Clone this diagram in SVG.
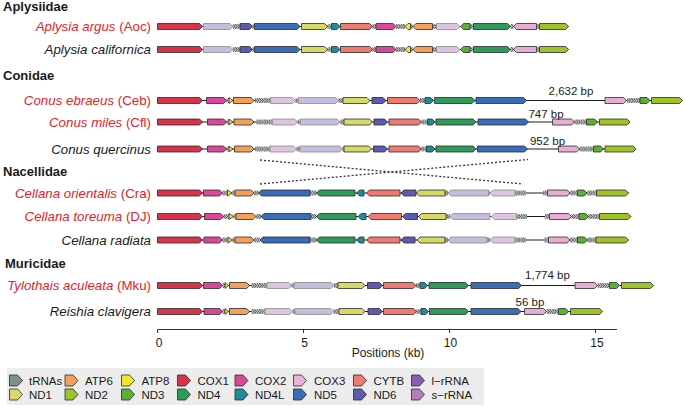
<svg xmlns="http://www.w3.org/2000/svg" xmlns:xlink="http://www.w3.org/1999/xlink" width="685" height="408" viewBox="0 0 685 408">
<style>
text{font-family:"Liberation Sans",Arial,sans-serif;fill:#1a1a1a}
.fam{font-size:13px;font-weight:bold}
.sp{font-size:13.3px}
.red{fill:#e8212b}
.it{font-style:italic}
.bp{font-size:11.5px;text-anchor:middle}
.lg{font-size:11.5px}
.ax{font-size:12px;text-anchor:middle}
path{stroke:#2b2b2b;stroke-width:.8}
.bb{stroke:#1a1a1a;stroke-width:1;fill:none}
.c1{fill:#d7334a}.c2{fill:#d9489a}.c3{fill:#e7add5}.cb{fill:#f07a70}
.a6{fill:#f4a05a}.a8{fill:#f2e52a}
.n1{fill:#d6d86a}.n2{fill:#9dc22a}.n3{fill:#5cb034}.n4{fill:#2f9a5c}.n4l{fill:#218b9b}.n5{fill:#3a6db8}.n6{fill:#5c5bb0}
.lr{fill:#c8bcdd;stroke:#8c8c8c}.sr{fill:#ddc3df;stroke:#8c8c8c}
.t{fill:url(#tp)}
.dash{stroke:#333;stroke-width:1.3;stroke-dasharray:2 2;fill:none}
</style>
<defs>
<pattern id="tp" x="0" y="-2.5" width="2.4" height="5" patternUnits="userSpaceOnUse">
<rect width="2.4" height="5" fill="#c6c6c6"/>
<path d="M0 0.3L2 2.5L0 4.7" fill="none" stroke="#6e6e6e" stroke-width="0.8"/>
</pattern>
<path id="ic" d="M0 0H8L13 5.5L8 11H0Z" stroke="#333" stroke-width="0.8"/>
<g id="aplTrack">
<line class="bb" x1="157.5" y1="0" x2="568.5" y2="0"/>
<rect class="t" x="233" y="-2.5" width="7" height="5"/>
<rect class="t" x="252.5" y="-2.5" width="2" height="5"/>
<rect class="t" x="327.5" y="-2.5" width="4" height="5"/>
<rect class="t" x="372.5" y="-2.5" width="3.5" height="5"/>
<rect class="t" x="396" y="-2.5" width="9" height="5"/>
<rect class="t" x="410.5" y="-2.5" width="2.5" height="5"/>
<rect class="t" x="432.5" y="-2.5" width="4" height="5"/>
<rect class="t" x="470" y="-2.5" width="3.5" height="5"/>
<rect class="t" x="510.5" y="-2.5" width="3" height="5"/>
<rect class="t" x="536.5" y="-2.5" width="3" height="5"/>
<path class="c1" d="M157.5 -3H199.5L202.5 0L199.5 3H157.5Z"/>
<path class="lr" d="M203.5 -3H230L233 0L230 3H203.5Z"/>
<path class="n6" d="M240 -3H249.5L252.5 0L249.5 3H240Z"/>
<path class="n5" d="M254.5 -3H297L300 0L297 3H254.5Z"/>
<path class="n1" d="M301.5 -3H324.5L327.5 0L324.5 3H301.5Z"/>
<path class="n4l" d="M331.5 -3H337L340 0L337 3H331.5Z"/>
<path class="cb" d="M340.5 -3H369.5L372.5 0L369.5 3H340.5Z"/>
<path class="c2" d="M376 -3H393L396 0L393 3H376Z"/>
<path class="a8" d="M405 0L408 -3H410.5V3H408Z"/>
<path class="a6" d="M413 0L416 -3H432.5V3H416Z"/>
<path class="sr" d="M436.5 -3H457L460 0L457 3H436.5Z"/>
<path class="n3" d="M460.5 0L463.5 -3H470V3H463.5Z"/>
<path class="n4" d="M473.5 -3H507.5L510.5 0L507.5 3H473.5Z"/>
<path class="c3" d="M513.5 0L516.5 -3H536.5V3H516.5Z"/>
<path class="n2" d="M539.5 -3H565.5L568.5 0L565.5 3H539.5Z"/>
</g>
</defs>
<rect width="685" height="408" fill="#ffffff"/>

<g id="families">
<text class="fam" x="3" y="11">Aplysiidae</text>
<text class="fam" x="3" y="79.5">Conidae</text>
<text class="fam" x="3" y="176">Nacellidae</text>
<text class="fam" x="5" y="268">Muricidae</text>
</g>

<g id="connectors">
<line class="dash" x1="260" y1="160" x2="523" y2="184"/>
<line class="dash" x1="260" y1="184" x2="528" y2="159.5"/>
</g>

<g id="aplysia-argus">
<text class="sp red" x="151" y="31" text-anchor="end"><tspan class="it">Aplysia argus</tspan> (Aoc)</text>
<use href="#aplTrack" xlink:href="#aplTrack" transform="translate(0,26.5)"/>
</g>

<g id="aplysia-californica">
<text class="sp it" x="151" y="54" text-anchor="end">Aplysia californica</text>
<use href="#aplTrack" xlink:href="#aplTrack" transform="translate(0,49.5)"/>
</g>

<g id="conus-ebraeus">
<text class="sp red" x="151" y="105" text-anchor="end"><tspan class="it">Conus ebraeus</tspan> (Ceb)</text>
<g transform="translate(0,100.5)">
<line class="bb" x1="157.5" y1="0" x2="682.5" y2="0"/>
<rect class="t" x="226.5" y="-2.5" width="2.5" height="5"/>
<rect class="t" x="255" y="-2.5" width="15.5" height="5"/>
<rect class="t" x="295.5" y="-2.5" width="3" height="5"/>
<rect class="t" x="338.5" y="-2.5" width="4.5" height="5"/>
<rect class="t" x="420" y="-2.5" width="5" height="5"/>
<rect class="t" x="627" y="-2.5" width="13" height="5"/>
<path class="c1" d="M157.5 -3H199.5L202.5 0L199.5 3H157.5Z"/>
<path class="c2" d="M206.5 -3H223.5L226.5 0L223.5 3H206.5Z"/>
<path class="a8" d="M229 -3L233 0L229 3Z"/>
<path class="a6" d="M233.5 -3H251L254 0L251 3H233.5Z"/>
<path class="sr" d="M270.5 -3H292.5L295.5 0L292.5 3H270.5Z"/>
<path class="lr" d="M298.5 -3H335.5L338.5 0L335.5 3H298.5Z"/>
<path class="n1" d="M343 -3H367L370 0L367 3H343Z"/>
<path class="n6" d="M372 -3H383L386 0L383 3H372Z"/>
<path class="cb" d="M387.5 -3H417L420 0L417 3H387.5Z"/>
<path class="n4l" d="M425 -3H430.5L433.5 0L430.5 3H425Z"/>
<path class="n4" d="M434.5 -3H472L475 0L472 3H434.5Z"/>
<path class="n5" d="M476 -3H523.5L526.5 0L523.5 3H476Z"/>
<path class="c3" d="M605 -3H623.5L626.5 0L623.5 3H605Z"/>
<path class="n3" d="M640 -3H647L650 0L647 3H640Z"/>
<path class="n2" d="M651.5 -3H679.5L682.5 0L679.5 3H651.5Z"/>
</g>
<text class="bp" x="571" y="95">2,632 bp</text>
</g>

<g id="conus-miles">
<text class="sp red" x="151" y="126.5" text-anchor="end"><tspan class="it">Conus miles</tspan> (Cfl)</text>
<g transform="translate(0,122)">
<line class="bb" x1="157.5" y1="0" x2="630" y2="0"/>
<rect class="t" x="226.5" y="-2.5" width="2.5" height="5"/>
<rect class="t" x="256" y="-2.5" width="16" height="5"/>
<rect class="t" x="297.5" y="-2.5" width="3" height="5"/>
<rect class="t" x="340" y="-2.5" width="4" height="5"/>
<rect class="t" x="421.5" y="-2.5" width="5.5" height="5"/>
<rect class="t" x="574.5" y="-2.5" width="12" height="5"/>
<path class="c1" d="M157.5 -3H199.5L202.5 0L199.5 3H157.5Z"/>
<path class="c2" d="M207.5 -3H223.5L226.5 0L223.5 3H207.5Z"/>
<path class="a8" d="M229 -3L233 0L229 3Z"/>
<path class="a6" d="M234 -3H251L254 0L251 3H234Z"/>
<path class="sr" d="M272.5 -3H294.5L297.5 0L294.5 3H272.5Z"/>
<path class="lr" d="M300.5 -3H337L340 0L337 3H300.5Z"/>
<path class="n1" d="M344 -3H369.5L372.5 0L369.5 3H344Z"/>
<path class="n6" d="M374 -3H384.5L387.5 0L384.5 3H374Z"/>
<path class="cb" d="M389 -3H418.5L421.5 0L418.5 3H389Z"/>
<path class="n4l" d="M427.5 -3H432L435 0L432 3H427.5Z"/>
<path class="n4" d="M436 -3H473L476 0L473 3H436Z"/>
<path class="n5" d="M478 -3H525.5L528.5 0L525.5 3H478Z"/>
<path class="c3" d="M552.5 -3H571.5L574.5 0L571.5 3H552.5Z"/>
<path class="n3" d="M586.5 -3H594.5L597.5 0L594.5 3H586.5Z"/>
<path class="n2" d="M599.5 -3H627L630 0L627 3H599.5Z"/>
</g>
<text class="bp" x="546" y="117.5">747 bp</text>
</g>

<g id="conus-quercinus">
<text class="sp it" x="151" y="153.5" text-anchor="end">Conus quercinus</text>
<g transform="translate(0,149)">
<line class="bb" x1="157.5" y1="0" x2="636" y2="0"/>
<rect class="t" x="226.5" y="-2.5" width="2.5" height="5"/>
<rect class="t" x="255" y="-2.5" width="15" height="5"/>
<rect class="t" x="296.5" y="-2.5" width="3.5" height="5"/>
<rect class="t" x="342.5" y="-2.5" width="1.5" height="5"/>
<rect class="t" x="421.5" y="-2.5" width="5" height="5"/>
<rect class="t" x="579.5" y="-2.5" width="13.5" height="5"/>
<path class="c1" d="M157.5 -3H199.5L202.5 0L199.5 3H157.5Z"/>
<path class="c2" d="M207.5 -3H223.5L226.5 0L223.5 3H207.5Z"/>
<path class="a8" d="M229 -3L233 0L229 3Z"/>
<path class="a6" d="M234.5 -3H251L254 0L251 3H234.5Z"/>
<path class="sr" d="M270 -3H293.5L296.5 0L293.5 3H270Z"/>
<path class="lr" d="M300 -3H339.5L342.5 0L339.5 3H300Z"/>
<path class="n1" d="M344 -3H368.5L371.5 0L368.5 3H344Z"/>
<path class="n6" d="M373.5 -3H384.5L387.5 0L384.5 3H373.5Z"/>
<path class="cb" d="M389 -3H418.5L421.5 0L418.5 3H389Z"/>
<path class="n4l" d="M426.5 -3H432L435 0L432 3H426.5Z"/>
<path class="n4" d="M436 -3H473L476 0L473 3H436Z"/>
<path class="n5" d="M477.5 -3H524.5L527.5 0L524.5 3H477.5Z"/>
<path class="c3" d="M558.5 -3H576.5L579.5 0L576.5 3H558.5Z"/>
<path class="n3" d="M593.5 -3H600.5L603.5 0L600.5 3H593.5Z"/>
<path class="n2" d="M605 -3H633L636 0L633 3H605Z"/>
</g>
<text class="bp" x="547.5" y="145">952 bp</text>
</g>

<g id="cellana-orientalis">
<text class="sp red" x="151" y="197.5" text-anchor="end"><tspan class="it">Cellana orientalis</tspan> (Cra)</text>
<g transform="translate(0,193)">
<line class="bb" x1="157.5" y1="0" x2="628.5" y2="0"/>
<rect class="t" x="222.5" y="-2.5" width="5" height="5"/>
<rect class="t" x="232" y="-2.5" width="3" height="5"/>
<rect class="t" x="254" y="-2.5" width="4.5" height="5"/>
<rect class="t" x="310" y="-2.5" width="6.5" height="5"/>
<rect class="t" x="445" y="-2.5" width="3" height="5"/>
<rect class="t" x="488.5" y="-2.5" width="1.5" height="5"/>
<rect class="t" x="515" y="-2.5" width="11" height="5"/>
<rect class="t" x="543" y="-2.5" width="4.5" height="5"/>
<rect class="t" x="570" y="-2.5" width="7.5" height="5"/>
<rect class="t" x="587" y="-2.5" width="9.5" height="5"/>
<path class="c1" d="M157.5 -3H199.5L202.5 0L199.5 3H157.5Z"/>
<path class="c2" d="M203.5 -3H219.5L222.5 0L219.5 3H203.5Z"/>
<path class="a8" d="M227.5 -3L232 0L227.5 3Z"/>
<path class="a6" d="M235 -3H251L254 0L251 3H235Z"/>
<path class="n5" d="M258.5 0L261.5 -3H310V3H261.5Z"/>
<path class="n4" d="M316.5 0L319.5 -3H355V3H319.5Z"/>
<path class="n4l" d="M356.5 0L359.5 -3H364V3H359.5Z"/>
<path class="cb" d="M366.5 0L369.5 -3H400V3H369.5Z"/>
<path class="n6" d="M401 0L404 -3H416V3H404Z"/>
<path class="n1" d="M416.5 0L419.5 -3H445V3H419.5Z"/>
<path class="lr" d="M448 0L451 -3H488.5V3H451Z"/>
<path class="sr" d="M490 0L493 -3H515V3H493Z"/>
<path class="c3" d="M547.5 -3H567L570 0L567 3H547.5Z"/>
<path class="n3" d="M577.5 -3H584L587 0L584 3H577.5Z"/>
<path class="n2" d="M596.5 -3H625.5L628.5 0L625.5 3H596.5Z"/>
</g>
</g>

<g id="cellana-toreuma">
<text class="sp red" x="151" y="221" text-anchor="end"><tspan class="it">Cellana toreuma</tspan> (DJ)</text>
<g transform="translate(0,216.5)">
<line class="bb" x1="157.5" y1="0" x2="631" y2="0"/>
<rect class="t" x="223.5" y="-2.5" width="5.5" height="5"/>
<rect class="t" x="233.5" y="-2.5" width="2.5" height="5"/>
<rect class="t" x="256" y="-2.5" width="5" height="5"/>
<rect class="t" x="311" y="-2.5" width="5.5" height="5"/>
<rect class="t" x="446" y="-2.5" width="4" height="5"/>
<rect class="t" x="516.5" y="-2.5" width="10.5" height="5"/>
<rect class="t" x="545" y="-2.5" width="4.5" height="5"/>
<rect class="t" x="571.5" y="-2.5" width="7.5" height="5"/>
<rect class="t" x="588.5" y="-2.5" width="11" height="5"/>
<path class="c1" d="M157.5 -3H199.5L202.5 0L199.5 3H157.5Z"/>
<path class="c2" d="M204.5 -3H220.5L223.5 0L220.5 3H204.5Z"/>
<path class="a8" d="M229 -3L233.5 0L229 3Z"/>
<path class="a6" d="M236 -3H253L256 0L253 3H236Z"/>
<path class="n5" d="M261 0L264 -3H311V3H264Z"/>
<path class="n4" d="M316.5 0L319.5 -3H356V3H319.5Z"/>
<path class="n4l" d="M358 0L361 -3H366V3H361Z"/>
<path class="cb" d="M368 0L371 -3H401.5V3H371Z"/>
<path class="n6" d="M402.5 0L405.5 -3H417.5V3H405.5Z"/>
<path class="n1" d="M418.5 0L421.5 -3H446V3H421.5Z"/>
<path class="lr" d="M450 0L453 -3H490V3H453Z"/>
<path class="sr" d="M491.5 0L494.5 -3H516.5V3H494.5Z"/>
<path class="c3" d="M549.5 -3H568.5L571.5 0L568.5 3H549.5Z"/>
<path class="n3" d="M579 -3H585.5L588.5 0L585.5 3H579Z"/>
<path class="n2" d="M599.5 -3H628L631 0L628 3H599.5Z"/>
</g>
</g>

<g id="cellana-radiata">
<text class="sp it" x="151" y="244.5" text-anchor="end">Cellana radiata</text>
<g transform="translate(0,240)">
<line class="bb" x1="157.5" y1="0" x2="628.5" y2="0"/>
<rect class="t" x="222.5" y="-2.5" width="5.5" height="5"/>
<rect class="t" x="232.5" y="-2.5" width="2.5" height="5"/>
<rect class="t" x="254" y="-2.5" width="6" height="5"/>
<rect class="t" x="310" y="-2.5" width="6.5" height="5"/>
<rect class="t" x="445" y="-2.5" width="3" height="5"/>
<rect class="t" x="486.5" y="-2.5" width="3.5" height="5"/>
<rect class="t" x="515" y="-2.5" width="11" height="5"/>
<rect class="t" x="544" y="-2.5" width="4.5" height="5"/>
<rect class="t" x="570" y="-2.5" width="7.5" height="5"/>
<rect class="t" x="587.5" y="-2.5" width="8.5" height="5"/>
<path class="c1" d="M157.5 -3H199.5L202.5 0L199.5 3H157.5Z"/>
<path class="c2" d="M204 -3H219.5L222.5 0L219.5 3H204Z"/>
<path class="a8" d="M228 -3L232.5 0L228 3Z"/>
<path class="a6" d="M235 -3H251L254 0L251 3H235Z"/>
<path class="n5" d="M260 0L263 -3H310V3H263Z"/>
<path class="n4" d="M316.5 0L319.5 -3H355V3H319.5Z"/>
<path class="n4l" d="M356.5 0L359.5 -3H364V3H359.5Z"/>
<path class="cb" d="M366.5 0L369.5 -3H400V3H369.5Z"/>
<path class="n6" d="M401 0L404 -3H415V3H404Z"/>
<path class="n1" d="M417 0L420 -3H445V3H420Z"/>
<path class="lr" d="M448 0L451 -3H486.5V3H451Z"/>
<path class="sr" d="M490 0L493 -3H515V3H493Z"/>
<path class="c3" d="M548.5 -3H567L570 0L567 3H548.5Z"/>
<path class="n3" d="M577.5 -3H584.5L587.5 0L584.5 3H577.5Z"/>
<path class="n2" d="M596 -3H625.5L628.5 0L625.5 3H596Z"/>
</g>
</g>

<g id="tylothais-aculeata">
<text class="sp red" x="151" y="290" text-anchor="end"><tspan class="it">Tylothais aculeata</tspan> (Mku)</text>
<g transform="translate(0,285.5)">
<line class="bb" x1="157.5" y1="0" x2="653.5" y2="0"/>
<rect class="t" x="222.5" y="-2.5" width="2.5" height="5"/>
<rect class="t" x="251.5" y="-2.5" width="15.5" height="5"/>
<rect class="t" x="291.5" y="-2.5" width="2.5" height="5"/>
<rect class="t" x="334" y="-2.5" width="4" height="5"/>
<rect class="t" x="416" y="-2.5" width="4" height="5"/>
<rect class="t" x="597.5" y="-2.5" width="11.5" height="5"/>
<path class="c1" d="M157.5 -3H199.5L202.5 0L199.5 3H157.5Z"/>
<path class="c2" d="M203.5 -3H219.5L222.5 0L219.5 3H203.5Z"/>
<path class="a8" d="M225 -3L228.5 0L225 3Z"/>
<path class="a6" d="M229.5 -3H246.5L249.5 0L246.5 3H229.5Z"/>
<path class="sr" d="M267 -3H288.5L291.5 0L288.5 3H267Z"/>
<path class="lr" d="M294 -3H331L334 0L331 3H294Z"/>
<path class="n1" d="M338 -3H362L365 0L362 3H338Z"/>
<path class="n6" d="M367.5 -3H379.5L382.5 0L379.5 3H367.5Z"/>
<path class="cb" d="M383.5 -3H413L416 0L413 3H383.5Z"/>
<path class="n4l" d="M420 -3H424.5L427.5 0L424.5 3H420Z"/>
<path class="n4" d="M429 -3H465.5L468.5 0L465.5 3H429Z"/>
<path class="n5" d="M471 -3H518.5L521.5 0L518.5 3H471Z"/>
<path class="c3" d="M575 -3H594.5L597.5 0L594.5 3H575Z"/>
<path class="n3" d="M609.5 -3H616.5L619.5 0L616.5 3H609.5Z"/>
<path class="n2" d="M621.5 -3H650.5L653.5 0L650.5 3H621.5Z"/>
</g>
<text class="bp" x="547.5" y="278.5">1,774 bp</text>
</g>

<g id="reishia-clavigera">
<text class="sp it" x="151" y="316" text-anchor="end">Reishia clavigera</text>
<g transform="translate(0,311.5)">
<line class="bb" x1="157.5" y1="0" x2="602.5" y2="0"/>
<rect class="t" x="222.5" y="-2.5" width="2.5" height="5"/>
<rect class="t" x="251.5" y="-2.5" width="13.5" height="5"/>
<rect class="t" x="292.5" y="-2.5" width="2.5" height="5"/>
<rect class="t" x="333.5" y="-2.5" width="5.5" height="5"/>
<rect class="t" x="416.5" y="-2.5" width="4.5" height="5"/>
<rect class="t" x="546.5" y="-2.5" width="11.5" height="5"/>
<path class="c1" d="M157.5 -3H199.5L202.5 0L199.5 3H157.5Z"/>
<path class="c2" d="M204 -3H219.5L222.5 0L219.5 3H204Z"/>
<path class="a8" d="M225 -3L228.5 0L225 3Z"/>
<path class="a6" d="M229.5 -3H246.5L249.5 0L246.5 3H229.5Z"/>
<path class="sr" d="M265 -3H289.5L292.5 0L289.5 3H265Z"/>
<path class="lr" d="M295 -3H330.5L333.5 0L330.5 3H295Z"/>
<path class="n1" d="M339 -3H362L365 0L362 3H339Z"/>
<path class="n6" d="M368 -3H379.5L382.5 0L379.5 3H368Z"/>
<path class="cb" d="M383.5 -3H413.5L416.5 0L413.5 3H383.5Z"/>
<path class="n4l" d="M421 -3H425.5L428.5 0L425.5 3H421Z"/>
<path class="n4" d="M429.5 -3H465.5L468.5 0L465.5 3H429.5Z"/>
<path class="n5" d="M471 -3H518L521 0L518 3H471Z"/>
<path class="c3" d="M524.5 -3H543.5L546.5 0L543.5 3H524.5Z"/>
<path class="n3" d="M558.5 -3H565.5L568.5 0L565.5 3H558.5Z"/>
<path class="n2" d="M570.5 -3H599.5L602.5 0L599.5 3H570.5Z"/>
</g>
<text class="bp" x="530" y="305.5">56 bp</text>
</g>

<g id="axis">
<line x1="157.5" y1="329.5" x2="617" y2="329.5" stroke="#333" stroke-width="1.2"/>
<g stroke="#333" stroke-width="1">
<line x1="157.5" y1="329.5" x2="157.5" y2="333"/>
<line x1="303.5" y1="329.5" x2="303.5" y2="333"/>
<line x1="449.5" y1="329.5" x2="449.5" y2="333"/>
<line x1="595.5" y1="329.5" x2="595.5" y2="333"/>
</g>
<text class="ax" x="159" y="347">0</text>
<text class="ax" x="304.5" y="347">5</text>
<text class="ax" x="450.5" y="347">10</text>
<text class="ax" x="597" y="347">15</text>
<text class="ax" x="388" y="357" font-size="13">Positions (kb)</text>
</g>

<g id="legend">
<rect x="7" y="368" width="477" height="37" fill="#ececec"/>
<use href="#ic" xlink:href="#ic" x="9.5" y="375" fill="#7f8f8a"/><text class="lg" x="29" y="385">tRNAs</text>
<use href="#ic" xlink:href="#ic" x="65" y="375" fill="#f4a05a"/><text class="lg" x="85" y="385">ATP6</text>
<use href="#ic" xlink:href="#ic" x="121.5" y="375" fill="#f2e52a"/><text class="lg" x="141.5" y="385">ATP8</text>
<use href="#ic" xlink:href="#ic" x="177.5" y="375" fill="#d7334a"/><text class="lg" x="197.5" y="385">COX1</text>
<use href="#ic" xlink:href="#ic" x="235" y="375" fill="#d9489a"/><text class="lg" x="255" y="385">COX2</text>
<use href="#ic" xlink:href="#ic" x="293.5" y="375" fill="#e7b3d8"/><text class="lg" x="314" y="385">COX3</text>
<use href="#ic" xlink:href="#ic" x="353.5" y="375" fill="#f07a70"/><text class="lg" x="373.5" y="385">CYTB</text>
<use href="#ic" xlink:href="#ic" x="411.5" y="375" fill="#8a5cb8"/><text class="lg" x="431.5" y="385">l−rRNA</text>
<use href="#ic" xlink:href="#ic" x="9.5" y="389" fill="#d6d86a"/><text class="lg" x="29" y="398.5">ND1</text>
<use href="#ic" xlink:href="#ic" x="65" y="389" fill="#9dc22a"/><text class="lg" x="85" y="398.5">ND2</text>
<use href="#ic" xlink:href="#ic" x="121.5" y="389" fill="#5cb034"/><text class="lg" x="141.5" y="398.5">ND3</text>
<use href="#ic" xlink:href="#ic" x="177.5" y="389" fill="#2f9a5c"/><text class="lg" x="197.5" y="398.5">ND4</text>
<use href="#ic" xlink:href="#ic" x="235" y="389" fill="#218b9b"/><text class="lg" x="255" y="398.5">ND4L</text>
<use href="#ic" xlink:href="#ic" x="293.5" y="389" fill="#3a6db8"/><text class="lg" x="314" y="398.5">ND5</text>
<use href="#ic" xlink:href="#ic" x="353.5" y="389" fill="#5c5bb0"/><text class="lg" x="373.5" y="398.5">ND6</text>
<use href="#ic" xlink:href="#ic" x="411.5" y="389" fill="#b57cc0"/><text class="lg" x="431.5" y="398.5">s−rRNA</text>
</g>
</svg>
